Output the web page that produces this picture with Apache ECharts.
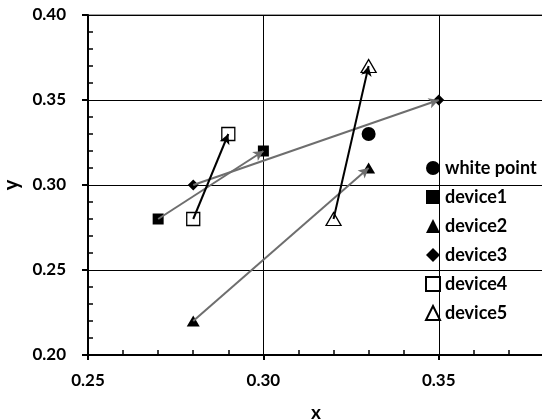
<!DOCTYPE html>
<html>
<head>
<meta charset="utf-8">
<script src="https://cdn.jsdelivr.net/npm/echarts@6/dist/echarts.min.js"></script>
<style>
  html, body { margin: 0; padding: 0; background: #fff; }
  #chart { width: 542px; height: 420px; }
</style>
</head>
<body>
<div id="chart"></div>
<script>
// data: [x, y] pairs, first point -> second point (arrow)
var whitePoint = [[0.33, 0.33]];
var device1 = [[0.27, 0.28], [0.30, 0.32]];
var device2 = [[0.28, 0.22], [0.33, 0.31]];
var device3 = [[0.28, 0.30], [0.35, 0.35]];
var device4 = [[0.28, 0.28], [0.29, 0.33]];
var device5 = [[0.32, 0.28], [0.33, 0.37]];
var legendNames = ['white point', 'device1', 'device2', 'device3', 'device4', 'device5'];

var FONT = 'Lato';

var myChart = echarts.init(document.getElementById('chart'));

function arrow (pts, color) {
  return {
    silent: true,
    symbol: ['none', 'arrow'],
    symbolSize: [8, 10],
    label: { show: false },
    lineStyle: { color: color, width: 2, type: 'solid', opacity: 1 },
    data: [[{ coord: pts[0] }, { coord: pts[1] }]]
  };
}

var option = {
  backgroundColor: '#fff',
  animation: false,
  grid: {
    left: 88, top: 15, right: -2, bottom: 65,
    containLabel: false, outerBoundsMode: 'none',
    show: true, borderColor: '#808080', borderWidth: 1.5
  },
  legend: {
    orient: 'vertical',
    left: 420,
    top: 154,
    itemGap: 11,
    itemWidth: 14,
    itemHeight: 14,
    data: legendNames,
    textStyle: { fontFamily: FONT, fontWeight: 'bold', fontSize: 18, color: '#000' }
  },
  xAxis: {
    type: 'value',
    min: 0.25, max: 0.38, interval: 0.05,
    name: 'x', nameLocation: 'middle', nameGap: 48,
    nameTextStyle: { fontFamily: FONT, fontWeight: 'bold', fontSize: 19, color: '#000' },
    axisLine: { show: true, onZero: false, lineStyle: { color: '#000', width: 2 } },
    axisTick: { show: true, length: 5, lineStyle: { color: '#000', width: 2 } },
    minorTick: { show: true, splitNumber: 5, length: -5, lineStyle: { color: '#000', width: 1.5 } },
    splitLine: { show: true, lineStyle: { color: '#000', width: 1 } },
    axisLabel: {
      margin: 17, fontFamily: FONT, fontWeight: 'bold', fontSize: 17, color: '#000',
      showMaxLabel: false,
      formatter: function (v) { return v.toFixed(2); }
    }
  },
  yAxis: {
    type: 'value',
    min: 0.2, max: 0.4, interval: 0.05,
    name: 'y', nameLocation: 'middle', nameGap: 66, nameRotate: 90,
    nameTextStyle: { fontFamily: FONT, fontWeight: 'bold', fontSize: 20, color: '#000' },
    axisLine: { show: true, onZero: false, lineStyle: { color: '#000', width: 2 } },
    axisTick: { show: true, length: 6, lineStyle: { color: '#000', width: 2 } },
    minorTick: { show: true, splitNumber: 5, length: -5, lineStyle: { color: '#000', width: 1.5 } },
    splitLine: { show: true, lineStyle: { color: '#000', width: 1 } },
    axisLabel: {
      margin: 22, fontFamily: FONT, fontWeight: 'bold', fontSize: 17, color: '#000',
      formatter: function (v) { return v.toFixed(2); }
    }
  },
  series: [
    {
      name: 'white point', type: 'scatter', symbol: 'circle', symbolSize: 14,
      itemStyle: { color: '#000', opacity: 1 }, data: whitePoint
    },
    {
      name: 'device1', type: 'scatter', symbol: 'rect', symbolSize: 11,
      itemStyle: { color: '#000', opacity: 1 }, data: device1,
      markLine: arrow(device1, '#6e6e6e')
    },
    {
      name: 'device2', type: 'scatter', symbol: 'triangle', symbolSize: [13, 11],
      itemStyle: { color: '#000', opacity: 1 }, data: device2,
      markLine: arrow(device2, '#6e6e6e')
    },
    {
      name: 'device3', type: 'scatter', symbol: 'diamond', symbolSize: 11,
      itemStyle: { color: '#000', opacity: 1 }, data: device3,
      markLine: arrow(device3, '#6e6e6e')
    },
    {
      name: 'device4', type: 'scatter', symbol: 'rect', symbolSize: 13,
      itemStyle: { color: '#fff', borderColor: '#000', borderWidth: 1.3, opacity: 1 }, data: device4,
      markLine: arrow(device4, '#000')
    },
    {
      name: 'device5', type: 'scatter', symbol: 'triangle', symbolSize: [15, 13],
      itemStyle: { color: '#fff', borderColor: '#000', borderWidth: 1.3, opacity: 1 }, data: device5,
      markLine: arrow(device5, '#000')
    }
  ]
};
myChart.setOption(option);
</script>
</body>
</html>
